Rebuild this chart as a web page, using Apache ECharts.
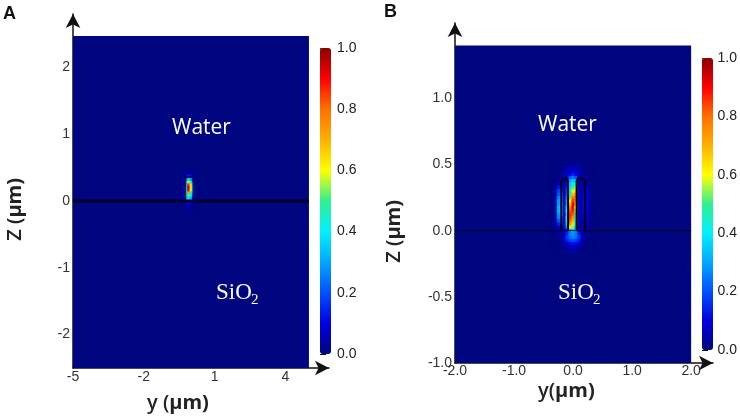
<!DOCTYPE html>
<html>
<head>
<meta charset="utf-8">
<style>html,body{margin:0;padding:0;background:#fff}#main{width:740px;height:418px}</style>
<script src="https://cdn.jsdelivr.net/npm/echarts@6/dist/echarts.min.js"></script>
</head>
<body>
<div id="main"></div>
<script>
// colour scale of both bars, evenly spaced from 0 to 1
var jetColors = ['#00067f', '#0000e0', '#0050ff', '#00a8ff', '#00f0ff', '#30f090', '#ffff00', '#ffb000', '#ff7000', '#ff0000', '#8b0000'];

// tick labels
var aTicksY = [-5, -2, 1, 4];
var aTicksZ = [-2, -1, 0, 1, 2];
var bTicksY = [-2, -1, 0, 1, 2];
var bTicksZ = [-1, -0.5, 0, 0.5, 1];

// panel A field, rows from top to bottom
var aCols = [-0.3, -0.2, -0.1, 0, 0.1, 0.2];
var aRows = [0.44, 0.40, 0.36, 0.32, 0.28, 0.24, 0.20, 0.16, 0.12, 0.08, 0.04, -0.04, -0.08, -0.12];
var aField = [
    [0, 0.01, 0.02, 0.02, 0.01, 0],
    [0.01, 0.03, 0.05, 0.05, 0.02, 0],
    [0.02, 0.08, 0.18, 0.12, 0.03, 0.01],
    [0.03, 0.18, 0.38, 0.28, 0.08, 0.01],
    [0.04, 0.28, 0.62, 0.46, 0.14, 0.01],
    [0.05, 0.32, 0.86, 0.58, 0.2, 0.02],
    [0.05, 0.34, 0.97, 0.62, 0.22, 0.02],
    [0.05, 0.34, 0.92, 0.58, 0.22, 0.02],
    [0.05, 0.32, 0.74, 0.5, 0.2, 0.02],
    [0.04, 0.3, 0.52, 0.42, 0.16, 0.01],
    [0.03, 0.24, 0.38, 0.32, 0.1, 0.01],
    [0.01, 0.04, 0.1, 0.05, 0.02, 0],
    [0, 0.02, 0.06, 0.03, 0.01, 0],
    [0, 0.01, 0.03, 0.01, 0, 0]
];

// panel B field, rows from top to bottom
var bCols = [-0.35, -0.3, -0.25, -0.2, -0.15, -0.1, -0.05, 0, 0.05, 0.1, 0.15, 0.2, 0.25, 0.3, 0.35];
var bRows = [0.5, 0.475, 0.45, 0.425, 0.4, 0.375, 0.35, 0.325, 0.3, 0.275, 0.25, 0.225, 0.2, 0.175, 0.15, 0.125, 0.1, 0.075, 0.05, 0.025, 0, -0.025, -0.05, -0.075, -0.1, -0.125, -0.15];
var bField = [
    [0, 0, 0, 0, 0.01, 0.02, 0.03, 0.03, 0.03, 0.02, 0.01, 0, 0, 0, 0],
    [0, 0, 0, 0.01, 0.02, 0.04, 0.05, 0.06, 0.05, 0.04, 0.02, 0.01, 0, 0, 0],
    [0, 0, 0, 0.01, 0.03, 0.05, 0.08, 0.09, 0.08, 0.05, 0.03, 0.01, 0, 0, 0],
    [0, 0, 0.01, 0.02, 0.04, 0.07, 0.11, 0.14, 0.11, 0.07, 0.03, 0.02, 0, 0, 0],
    [0, 0, 0.01, 0.04, 0.04, 0.08, 0.2, 0.24, 0.2, 0.06, 0.04, 0.03, 0.01, 0, 0],
    [0, 0.01, 0.03, 0.06, 0.03, 0.1, 0.3, 0.36, 0.3, 0.04, 0.03, 0.05, 0.02, 0, 0],
    [0, 0.01, 0.06, 0.08, 0.03, 0.12, 0.36, 0.42, 0.45, 0.05, 0.03, 0.07, 0.03, 0.01, 0],
    [0, 0.02, 0.12, 0.14, 0.04, 0.14, 0.38, 0.48, 0.55, 0.06, 0.04, 0.09, 0.05, 0.01, 0],
    [0, 0.03, 0.17, 0.2, 0.05, 0.18, 0.42, 0.58, 0.65, 0.08, 0.04, 0.1, 0.06, 0.02, 0],
    [0, 0.03, 0.2, 0.24, 0.06, 0.2, 0.46, 0.68, 0.74, 0.08, 0.05, 0.11, 0.07, 0.02, 0],
    [0, 0.04, 0.24, 0.3, 0.06, 0.24, 0.52, 0.78, 0.78, 0.08, 0.05, 0.12, 0.08, 0.02, 0],
    [0, 0.04, 0.27, 0.33, 0.07, 0.28, 0.6, 0.86, 0.75, 0.08, 0.05, 0.13, 0.08, 0.02, 0],
    [0, 0.04, 0.28, 0.35, 0.07, 0.32, 0.68, 0.92, 0.68, 0.08, 0.05, 0.13, 0.08, 0.02, 0],
    [0, 0.04, 0.3, 0.36, 0.08, 0.36, 0.76, 0.92, 0.6, 0.08, 0.05, 0.13, 0.08, 0.02, 0],
    [0, 0.04, 0.3, 0.36, 0.08, 0.4, 0.82, 0.88, 0.54, 0.07, 0.05, 0.12, 0.08, 0.02, 0],
    [0, 0.04, 0.28, 0.34, 0.08, 0.42, 0.86, 0.82, 0.5, 0.07, 0.05, 0.12, 0.07, 0.02, 0],
    [0, 0.03, 0.25, 0.3, 0.07, 0.42, 0.86, 0.76, 0.46, 0.06, 0.04, 0.11, 0.06, 0.02, 0],
    [0, 0.03, 0.2, 0.25, 0.06, 0.4, 0.82, 0.7, 0.42, 0.06, 0.04, 0.09, 0.05, 0.01, 0],
    [0, 0.02, 0.14, 0.18, 0.05, 0.36, 0.76, 0.64, 0.4, 0.05, 0.03, 0.07, 0.04, 0.01, 0],
    [0, 0.02, 0.08, 0.1, 0.04, 0.28, 0.62, 0.55, 0.34, 0.04, 0.03, 0.05, 0.03, 0.01, 0],
    [0, 0.01, 0.03, 0.05, 0.05, 0.12, 0.3, 0.35, 0.3, 0.1, 0.05, 0.03, 0.02, 0, 0],
    [0, 0.01, 0.02, 0.03, 0.06, 0.15, 0.25, 0.28, 0.25, 0.15, 0.06, 0.03, 0.01, 0, 0],
    [0, 0, 0.01, 0.03, 0.08, 0.18, 0.24, 0.27, 0.24, 0.18, 0.08, 0.03, 0.01, 0, 0],
    [0, 0, 0.01, 0.03, 0.06, 0.14, 0.18, 0.2, 0.18, 0.14, 0.06, 0.03, 0.01, 0, 0],
    [0, 0, 0, 0.02, 0.04, 0.08, 0.11, 0.12, 0.11, 0.08, 0.04, 0.02, 0, 0, 0],
    [0, 0, 0, 0.01, 0.02, 0.04, 0.06, 0.07, 0.06, 0.04, 0.02, 0.01, 0, 0, 0],
    [0, 0, 0, 0, 0.01, 0.02, 0.03, 0.04, 0.03, 0.02, 0.01, 0, 0, 0, 0]
];

// plot areas [yMin, zMax, yMax, zMin]
var aDomain = [[-5, 2.47, 5, -2.5]];
var bDomain = [[-2, 1.4, 2, -1]];

// substrate line and waveguide outlines
var aInterface = [[-5, 0], [5, 0]];
var bInterface = [[-2, 0], [2, 0]];
var aGuide = [[-0.25, 0], [-0.25, 0.36], [0.13, 0.36], [0.13, 0]];
var bGuideL = [[-0.2, 0], [-0.2, 0.37], [-0.18, 0.395], [-0.105, 0.395], [-0.085, 0.37], [-0.085, 0]];
var bGuideR = [[0.06, 0], [0.06, 0.37], [0.08, 0.395], [0.18, 0.395], [0.2, 0.37], [0.2, 0]];

function toCells(cols, rows, field) {
    var out = [];
    rows.forEach(function (z, r) {
        cols.forEach(function (y, c) {
            out.push([y, z, field[r][c]]);
        });
    });
    return out;
}

function renderDomain(params, api) {
    var a = api.coord([api.value(0), api.value(1)]);
    var b = api.coord([api.value(2), api.value(3)]);
    return {
        type: 'rect',
        shape: { x: a[0], y: a[1], width: b[0] - a[0], height: b[1] - a[1] },
        style: { fill: jetColors[0] }
    };
}

// each cell is centred on its y,z and as big as one step of the field
function cellRenderer(dy, dz) {
    return function (params, api) {
        var a = api.coord([api.value(0) - dy / 2, api.value(1) + dz / 2]);
        var b = api.coord([api.value(0) + dy / 2, api.value(1) - dz / 2]);
        var color = api.visual('color');
        return {
            type: 'rect',
            shape: { x: a[0], y: a[1], width: b[0] - a[0] + 0.5, height: b[1] - a[1] + 0.5 },
            style: { fill: color, shadowBlur: 1.5, shadowColor: color }
        };
    };
}

function lineSeries(xi, data, width, color) {
    return {
        type: 'line', xAxisIndex: xi, yAxisIndex: xi, data: data, symbol: 'none', silent: true,
        lineStyle: { width: width, color: color }, z: 5
    };
}

var tickFont = { color: '#333', fontSize: 14, fontFamily: 'Liberation Sans' };
var axisLine = {
    show: true, onZero: false, symbol: ['none', 'arrow'], symbolSize: [11, 14], symbolOffset: [0, 0],
    lineStyle: { color: '#111', width: 1.5 }
};

function plotAxis(min, max, ticks, digits, pos, margin) {
    return {
        type: 'value', min: min, max: max, position: pos,
        splitLine: { show: false },
        axisLine: axisLine,
        axisTick: { show: false },
        axisLabel: Object.assign({}, tickFont, {
            margin: margin,
            customValues: ticks,
            padding: pos === 'left' ? [0, 0, 5, 0] : 0,
            formatter: function (v) { return v.toFixed(digits); }
        })
    };
}

function barAxis() {
    return {
        type: 'value', min: 0, max: 1, interval: 0.2, position: 'right',
        splitLine: { show: false },
        axisLine: { show: false },
        axisTick: { show: true, length: 6, lineStyle: { color: '#111', width: 1 } },
        axisLabel: {
            color: '#222', fontSize: 14, fontFamily: 'Liberation Sans', margin: 8,
            formatter: function (v) { return v.toFixed(1); }
        }
    };
}

function hiddenX() {
    return { type: 'value', min: 0, max: 1, show: false };
}

function label(text, left, top, font, extra) {
    return Object.assign({
        type: 'text', left: left, top: top, z: 20,
        style: Object.assign({ text: text, fill: '#222' }, font)
    }, extra || {});
}

var nameRich = {
    n: { font: '600 20px "Open Sans"', fill: '#222' },
    b: { font: '700 20px "Open Sans"', fill: '#222' }
};
var sioFont = { font: '23px "Liberation Serif"', fill: '#fff' };
var subFont = { font: '15px "Liberation Serif"', fill: '#fff' };

var chart = echarts.init(document.getElementById('main'), null, { renderer: 'canvas' });

chart.setOption({
    animation: false,
    backgroundColor: '#fff',
    grid: [
        { left: 73, top: 14, width: 256, height: 354 },
        { left: 455, top: 23, width: 258, height: 340 },
        { left: 320, top: 48, width: 9, height: 306 },
        { left: 702, top: 58, width: 9, height: 292 }
    ],
    xAxis: [
        Object.assign(plotAxis(-5, 5.85, aTicksY, 0, 'bottom', 2), { gridIndex: 0 }),
        Object.assign(plotAxis(-2, 2.37, bTicksY, 1, 'bottom', 1), { gridIndex: 1 }),
        Object.assign(hiddenX(), { gridIndex: 2 }),
        Object.assign(hiddenX(), { gridIndex: 3 })
    ],
    yAxis: [
        Object.assign(plotAxis(-2.5, 2.8, aTicksZ, 0, 'left', 3), { gridIndex: 0 }),
        Object.assign(plotAxis(-1, 1.57, bTicksZ, 1, 'left', 3), { gridIndex: 1 }),
        Object.assign(barAxis(), { gridIndex: 2 }),
        Object.assign(barAxis(), { gridIndex: 3 })
    ],
    visualMap: [
        {
            type: 'continuous', seriesIndex: 1, dimension: 2, min: 0, max: 1,
            left: 320, top: 48, itemWidth: 11, itemHeight: 306, padding: 0,
            calculable: false, realtime: false, text: ['', ''], showLabel: false,
            inRange: { color: jetColors }
        },
        {
            type: 'continuous', seriesIndex: 5, dimension: 2, min: 0, max: 1,
            left: 702, top: 58, itemWidth: 11, itemHeight: 292, padding: 0,
            calculable: false, realtime: false, text: ['', ''], showLabel: false,
            inRange: { color: jetColors }
        }
    ],
    series: [
        { type: 'custom', xAxisIndex: 0, yAxisIndex: 0, data: aDomain, renderItem: renderDomain, silent: true, z: 1 },
        { type: 'custom', xAxisIndex: 0, yAxisIndex: 0, data: toCells(aCols, aRows, aField), renderItem: cellRenderer(0.1, 0.04), encode: { x: 0, y: 1 }, silent: true, z: 2 },
        lineSeries(0, aInterface, 3, '#00002a'),
        lineSeries(0, aGuide, 1.5, '#000a40'),
        { type: 'custom', xAxisIndex: 1, yAxisIndex: 1, data: bDomain, renderItem: renderDomain, silent: true, z: 1 },
        { type: 'custom', xAxisIndex: 1, yAxisIndex: 1, data: toCells(bCols, bRows, bField), renderItem: cellRenderer(0.05, 0.025), encode: { x: 0, y: 1 }, silent: true, z: 2 },
        lineSeries(1, bInterface, 1, '#00002a'),
        lineSeries(1, bGuideL, 2, '#000010'),
        lineSeries(1, bGuideR, 2, '#000010')
    ],
    graphic: [
        label('A', 3, 5, { font: '700 18px "Liberation Sans"', fill: '#111' }),
        label('B', 384, 3, { font: '700 18px "Liberation Sans"', fill: '#111' }),
        label('Water', 172, 118, { font: '21px "Open Sans"', fill: '#fff' }),
        label('Water', 538, 115, { font: '21px "Open Sans"', fill: '#fff' }),
        label('SiO', 216, 281, sioFont),
        label('2', 251, 293, subFont),
        label('SiO', 558, 281, sioFont),
        label('2', 593, 293, subFont),
        label('{n|y (}{b|µm)}', 147, 393, { rich: nameRich }),
        label('{n|y(}{b|µm)}', 538, 381, { rich: nameRich }),
        label('{n|Z (}{b|µm)}', 5, 178, { rich: nameRich }, { rotation: Math.PI / 2 }),
        label('{n|Z (}{b|µm)}', 384, 200, { rich: nameRich }, { rotation: Math.PI / 2 })
    ]
});
</script>
</body>
</html>
